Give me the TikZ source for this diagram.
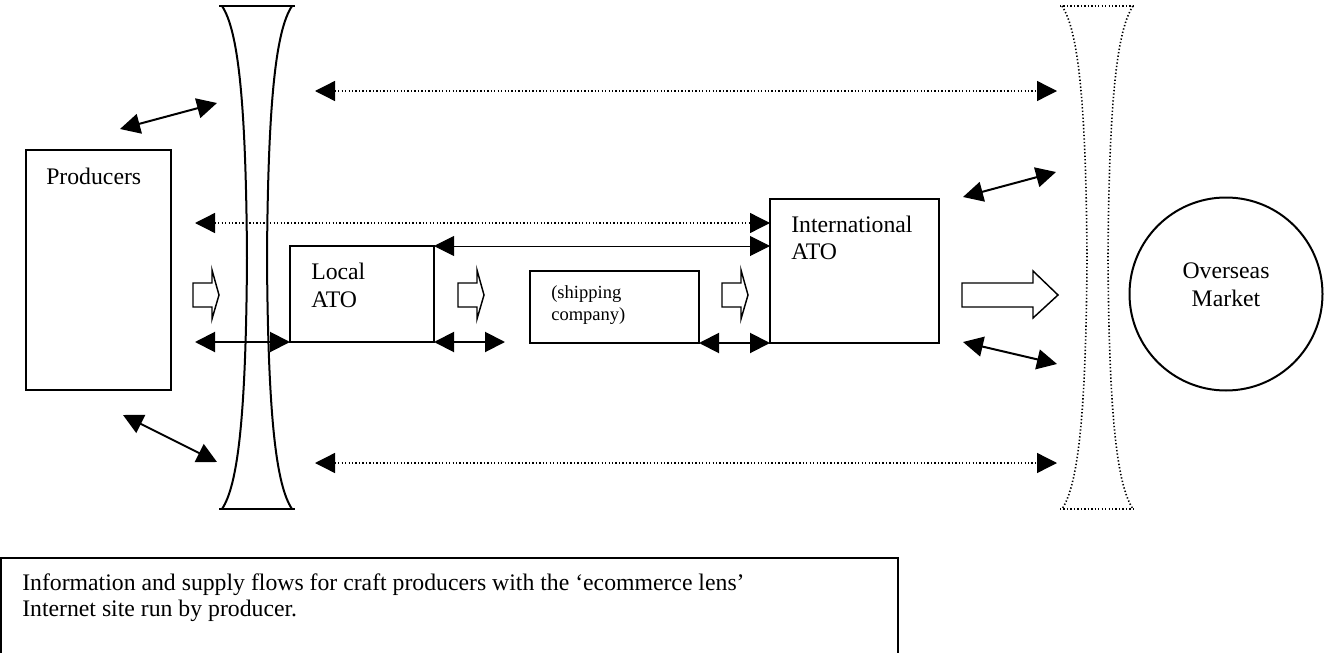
\documentclass[tikz,border=0pt]{standalone}
\usepackage{fontspec}
\setmainfont{Liberation Serif}
\usetikzlibrary{arrows.meta,calc}
\begin{document}
\begin{tikzpicture}[x=0.75pt,y=-0.75pt,
  >={Triangle[length=15pt,width=15pt]},
  box/.style={draw,line width=1.5pt,inner sep=0pt,outer sep=0pt},
  txt/.style={inner sep=0pt,anchor=base west,font=\fontsize{17.8}{21}\selectfont},
  ctxt/.style={txt,anchor=base},
  small/.style={txt,font=\fontsize{13.9}{16}\selectfont},
  flow/.style={line width=1.5pt,<->},
  link/.style={line width=0.75pt,<->},
  info/.style={line width=1pt,<->,dash pattern=on 1pt off 1.6pt},
  lens/.style={line width=1.5pt},
  dotlens/.style={line width=1.2pt,dash pattern=on 1pt off 1.6pt},
  hollow/.style={draw,line width=1.1pt,fill=white,line join=miter},
]
\useasboundingbox (0,0) rectangle (1325,653);
\clip (0,0) rectangle (1325,653);

% e-commerce lens (solid, producer side)
\draw[lens] (219,6) -- (295,6);
\draw[lens] (219,509) -- (295,509);
\draw[lens] (222,6) .. controls (238,30) and (246,100) .. (247,258)
                     .. controls (246,416) and (238,485) .. (222,509);
\draw[lens] (292,6) .. controls (276,30) and (268,100) .. (267,258)
                     .. controls (268,416) and (276,485) .. (292,509);

% lens on the market side (dotted)
\draw[dotlens] (1060,6) -- (1135,6);
\draw[dotlens] (1060,509) -- (1135,509);
\draw[dotlens] (1062,6) .. controls (1078,30) and (1086,100) .. (1087,258)
                        .. controls (1086,416) and (1078,485) .. (1062,509);
\draw[dotlens] (1133,6) .. controls (1117,30) and (1109,100) .. (1108,258)
                        .. controls (1109,416) and (1117,485) .. (1133,509);

% boxes
\node[box, minimum width=108.75pt, minimum height=180pt] (prod) at (98.5,270) {};
\node[box, minimum width=108pt, minimum height=72pt] (loc) at (362,294) {};
\node[box, minimum width=126.75pt, minimum height=54pt] (ship) at (614.5,307) {};
\node[box, minimum width=126.75pt, minimum height=108pt] (intl) at (854.5,271) {};
\node[box, circle, minimum size=144.75pt] (mkt) at (1226,294) {};

% labels
\node[txt] (prodA) at (46,184) {Producers};
\node[txt] (locA) at (311,279) {Local};
\node[txt] (locB) at (311,307) {ATO};
\node[small] (shipA) at (551,298) {(shipping};
\node[small] (shipB) at (551,320) {company)};
\node[txt] (intlA) at (791,232) {International};
\node[txt] (intlB) at (791,259) {ATO};
\node[ctxt] (mktA) at (1226,278) {Overseas};
\node[ctxt] (mktB) at (1226,306) {Market};

% free ends of the flows
\coordinate (topL) at (315,91);
\coordinate (topR) at (1057,91);
\coordinate (botL) at (315,463);
\coordinate (botR) at (1057,463);
\coordinate (infoL) at (195,223);
\coordinate (suppL) at (195,342);
\coordinate (locR) at (505,342);
\coordinate (d1a) at (120,129);
\coordinate (d1b) at (217,103);
\coordinate (d2a) at (123,415);
\coordinate (d2b) at (217,462);
\coordinate (d3a) at (963,197);
\coordinate (d3b) at (1056,172);
\coordinate (d4a) at (963,342);
\coordinate (d4b) at (1057,364);

% information flows
\draw[info] (topL) -- (topR);
\draw[info] (botL) -- (botR);
\draw[info] (infoL) -- (infoL -| intl.west);
\draw[link] (loc.north east) -- (loc.north east -| intl.west);

% supply-side links
\draw[flow] (suppL) -- (loc.south west);
\draw[flow] (loc.south east) -- (locR);
\draw[flow] (ship.south east) -- (intl.south west);

% links through the lenses
\draw[flow] (d1a) -- (d1b);
\draw[flow] (d2a) -- (d2b);
\draw[flow] (d3a) -- (d3b);
\draw[flow] (d4a) -- (d4b);

% goods movement
\foreach \x in {193,458,722}{
  \draw[hollow, shift={(\x,0)}] (0,283) -- (19,283) -- (19,270) -- (26,295)
        -- (19,319) -- (19,307) -- (0,307) -- cycle;
}
\draw[hollow] (962,283) -- (1033,283) -- (1033,271) -- (1058,295)
      -- (1033,318) -- (1033,307) -- (962,307) -- cycle;

% caption
\node[box, anchor=north west, minimum width=672.75pt, minimum height=150pt] (cap) at (1,558) {};
\node[txt] (capA) at (22,590) {Information and supply flows for craft producers with the ‘ecommerce lens’};
\node[txt] (capB) at (22,616) {Internet site run by producer.};
\end{tikzpicture}
\end{document}
